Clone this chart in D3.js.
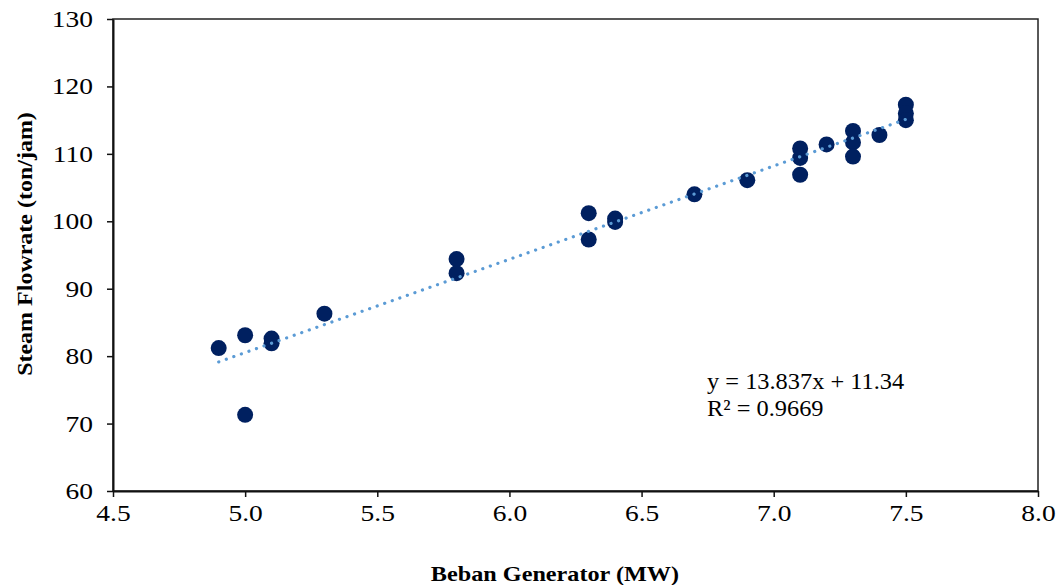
<!DOCTYPE html>
<html>
<head>
<meta charset="utf-8">
<script src="https://cdn.jsdelivr.net/npm/d3@7"></script>
<style>
  body { margin: 0; background: #fff; }
  text { font-family: "Liberation Serif", "Times New Roman", serif; }
</style>
</head>
<body>
<script>
// beban generator (MW) vs steam flowrate (ton/jam)
var beban = [4.9, 5.0, 5.0, 5.1, 5.1, 5.3, 5.8, 5.8, 6.3, 6.3, 6.4, 6.4, 6.7, 6.9,
             7.1, 7.1, 7.1, 7.2, 7.3, 7.3, 7.3, 7.4, 7.5, 7.5, 7.5];
var steam = [81.2, 83.1, 71.3, 82.6, 81.9, 86.3, 94.4, 92.3, 101.2, 97.3, 100.4, 99.9, 104.0, 106.1,
             110.8, 109.4, 106.9, 111.4, 113.4, 111.7, 109.6, 112.8, 117.3, 116.0, 115.0];
var xTicks = [4.5, 5.0, 5.5, 6.0, 6.5, 7.0, 7.5, 8.0];
var yTicks = [60, 70, 80, 90, 100, 110, 120, 130];
var slope = 13.837, intercept = 11.34;
var trendRange = [4.9, 7.5];
var eqLabels = ["y = 13.837x + 11.34", "R\u00b2 = 0.9669"];

var W = 1058, H = 585;
var mLeft = 113, mRight = 1038, mTop = 19, mBottom = 491;

var svg = d3.select("body").append("svg").attr("width", W).attr("height", H);

var x = d3.scaleLinear().domain([4.5, 8.0]).range([mLeft, mRight]);
var y = d3.scaleLinear().domain([60, 130]).range([mBottom, mTop]);

// the source picture is a bit wider than tall, stretch text to match
function widen(sel, k){
  sel.each(function(){
    var len = this.getComputedTextLength();
    d3.select(this).attr("textLength", len * k).attr("lengthAdjust", "spacingAndGlyphs");
  });
}

// frame
svg.append("rect")
  .attr("x", mLeft).attr("y", mTop)
  .attr("width", mRight - mLeft).attr("height", mBottom - mTop)
  .attr("fill", "none").attr("stroke", "#222").attr("stroke-width", 1.5);

var xAxis = svg.append("g").attr("transform", "translate(0," + mBottom + ")")
  .call(d3.axisBottom(x).tickValues(xTicks).tickFormat(d3.format(".1f")).tickSizeOuter(0).tickSizeInner(6).tickPadding(7));
var yAxis = svg.append("g").attr("transform", "translate(" + mLeft + ",0)")
  .call(d3.axisLeft(y).tickValues(yTicks).tickSizeOuter(0).tickSizeInner(6).tickPadding(14));

[xAxis, yAxis].forEach(function(g){
  g.select(".domain").attr("stroke", "#111").attr("stroke-width", 2);
  g.selectAll(".tick line").attr("stroke", "#111").attr("stroke-width", 1.5);
  g.selectAll(".tick text").attr("font-size", 23.5).attr("fill", "#000");
  widen(g.selectAll(".tick text"), 1.17);
});

var line = d3.line().x(function(d){ return x(d); }).y(function(d){ return y(slope * d + intercept); });

// points
var pts = beban.map(function(b, i){ return [b, steam[i]]; });
svg.append("g").selectAll("circle")
  .data(pts).enter().append("circle")
  .attr("cx", function(d){ return x(d[0]); })
  .attr("cy", function(d){ return y(d[1]); })
  .attr("r", 8)
  .attr("fill", "#002060");

// trendline sits on top of the markers
svg.append("path")
  .datum(trendRange)
  .attr("d", line)
  .attr("fill", "none")
  .attr("stroke", "#5b9bd5")
  .attr("stroke-width", 3.2)
  .attr("stroke-linecap", "round")
  .attr("stroke-dasharray", "0.1 7.9");

// equation
var eq = svg.selectAll(".eq").data(eqLabels).enter().append("text")
  .attr("class", "eq")
  .attr("x", 707)
  .attr("y", function(d, i){ return 389 + i * 27; })
  .attr("font-size", 23)
  .text(function(d){ return d; });
widen(eq, 1.06);

// axis titles
var xt = svg.append("text")
  .attr("x", 555).attr("y", 581)
  .attr("text-anchor", "middle")
  .attr("font-size", 22).attr("font-weight", "bold")
  .text("Beban Generator (MW)");
widen(xt, 1.1);

var yt = svg.append("text")
  .attr("transform", "translate(32,244) rotate(-90)")
  .attr("text-anchor", "middle")
  .attr("font-size", 22).attr("font-weight", "bold")
  .text("Steam Flowrate (ton/jam)");
widen(yt, 1.09);
</script>
</body>
</html>
